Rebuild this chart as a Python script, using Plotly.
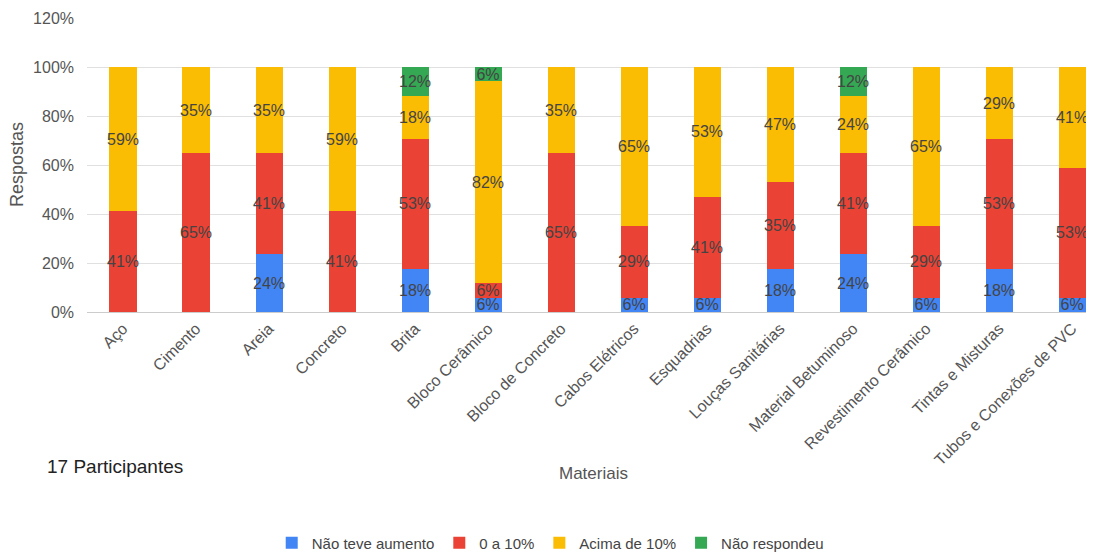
import plotly.graph_objects as go

categorias = ["Aço", "Cimento", "Areia", "Concreto", "Brita", "Bloco Cerâmico",
              "Bloco de Concreto", "Cabos Elétricos", "Esquadrias", "Louças Sanitárias",
              "Material Betuminoso", "Revestimento Cerâmico", "Tintas e Misturas",
              "Tubos e Conexões de PVC"]

nao_teve_aumento = [None, None, 23.53, None, 17.65, 5.88, None, 5.88, 5.88, 17.65, 23.53, 5.88, 17.65, 5.88]
zero_a_10 = [41.18, 64.71, 41.18, 41.18, 52.94, 5.88, 64.71, 29.41, 41.18, 35.29, 41.18, 29.41, 52.94, 52.94]
acima_de_10 = [58.82, 35.29, 35.29, 58.82, 17.65, 82.35, 35.29, 64.71, 52.94, 47.06, 23.53, 64.71, 29.41, 41.18]
nao_respondeu = [None, None, None, None, 11.76, 5.88, None, None, None, None, 11.76, None, None, None]

series = [
    ("Não teve aumento", nao_teve_aumento, "#4285F4"),
    ("0 a 10%", zero_a_10, "#EA4335"),
    ("Acima de 10%", acima_de_10, "#FBBC04"),
    ("Não respondeu", nao_respondeu, "#34A853"),
]

FONT = "Arial, 'Liberation Sans', sans-serif"

fig = go.Figure()
for nome, vals, cor in series:
    fig.add_trace(go.Bar(
        name=nome, x=categorias, y=vals, marker=dict(color=cor, line=dict(width=0)),
        width=0.37,
        text=[None if v is None else f"{round(v):.0f}%" for v in vals],
        textposition="inside", insidetextanchor="middle", textangle=0,
        constraintext="none",
        textfont=dict(family=FONT, size=16, color="#444444"),
    ))

fig.update_layout(
    barmode="stack",
    width=1086, height=544,
    margin=dict(l=79, r=0, t=10, b=240, autoexpand=False),
    plot_bgcolor="white", paper_bgcolor="white",
    font=dict(family=FONT, size=16, color="#555555"),
    showlegend=True,
    legend=dict(orientation="h", x=0.46, xanchor="center", y=-0.786, yanchor="middle",
                font=dict(size=15, color="#444444"), itemwidth=30, traceorder="normal",
                tracegroupgap=0),
)
fig.update_xaxes(range=[-0.493, 13.30], tickangle=-45, showgrid=False, ticks="",
                 automargin=False,
                 tickfont=dict(size=16, color="#555555"),
                 showline=True, linecolor="#cccccc", linewidth=1)
fig.update_yaxes(range=[0, 120], dtick=20, ticksuffix="%", showgrid=True, gridcolor="#e0e0e0",
                 automargin=False, zeroline=False,
                 tickfont=dict(size=16, color="#555555"), ticks="", ticklabelstandoff=12)
fig.add_annotation(text="Respostas", xref="paper", yref="paper", x=-0.0695, y=0.5,
                   xanchor="center", yanchor="middle", textangle=-90, showarrow=False,
                   font=dict(family=FONT, size=18, color="#555555"))
fig.add_annotation(text="Materiais", xref="paper", yref="paper", x=0.5025, y=-0.551,
                   xanchor="center", yanchor="middle", showarrow=False,
                   font=dict(family=FONT, size=17, color="#555555"))
fig.add_annotation(text="17 Participantes", xref="paper", yref="paper", x=-0.0415, y=-0.527,
                   xanchor="left", yanchor="middle", showarrow=False,
                   font=dict(family=FONT, size=19, color="#222222"))
fig.write_html("out.html")
